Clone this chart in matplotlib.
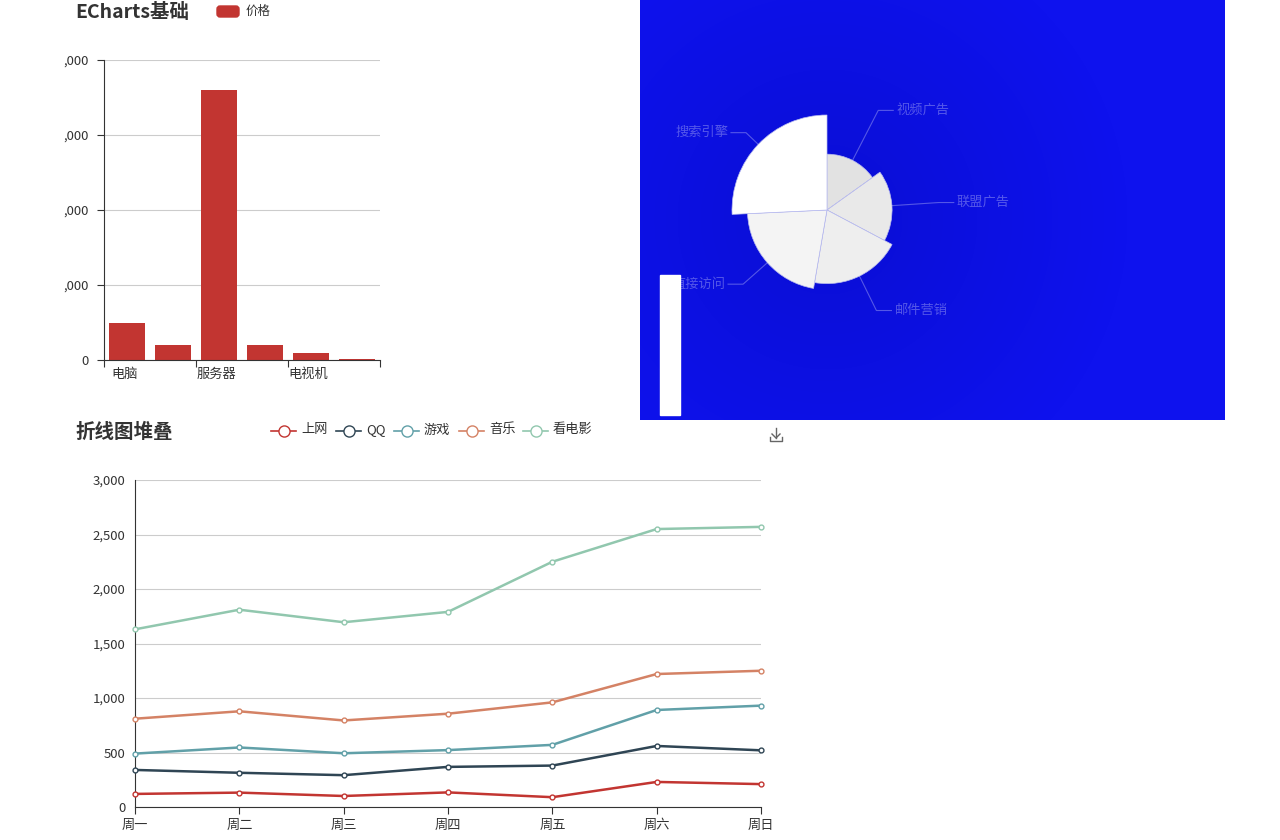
import numpy as np
import matplotlib
matplotlib.use("Agg")
import matplotlib.pyplot as plt
from matplotlib.patches import Wedge, FancyBboxPatch, Rectangle
from matplotlib.lines import Line2D

plt.rcParams['font.family'] = ['Noto Sans CJK SC', 'DejaVu Sans']

# ---- data ----
bar_cats = ["电脑", "笔记本", "服务器", "手机", "电视机", "平板"]
bar_vals = [500, 200, 3600, 200, 100, 20]
bar_ticks = [0, 1000, 2000, 3000, 4000]
bar_tick_labels = ["0", ",000", ",000", ",000", ",000"]

pie_names = ["视频广告", "联盟广告", "邮件营销", "直接访问", "搜索引擎"]
pie_vals = [235, 274, 310, 335, 400]
pie_colors = ["#e2e2e2", "#e9e9e9", "#eeeeee", "#f4f4f4", "#ffffff"]

days = ["周一", "周二", "周三", "周四", "周五", "周六", "周日"]
series_names = ["上网", "QQ", "游戏", "音乐", "看电影"]
s_net = [120, 132, 101, 134, 90, 230, 210]
s_qq = [220, 182, 191, 234, 290, 330, 310]
s_game = [150, 232, 201, 154, 190, 330, 410]
s_music = [320, 332, 301, 334, 390, 330, 320]
s_movie = [820, 932, 901, 934, 1290, 1330, 1320]
series_colors = ["#c23531", "#2f4554", "#61a0a8", "#d48265", "#91c7ae"]

W, H = 1280, 840
fig = plt.figure(figsize=(12.8, 8.4), dpi=100)

def ax_px(x0, y0, x1, y1, **kw):
    return fig.add_axes([x0 / W, 1 - y1 / H, (x1 - x0) / W, (y1 - y0) / H], **kw)

def ftext(x, y, s, **kw):
    fig.text(x / W, 1 - y / H, s, **kw)

# ---- bar chart ----
ax = ax_px(104, 60, 380, 360)
x = np.arange(len(bar_cats))
ax.bar(x, bar_vals, width=0.8, color="#c23531")
ax.set_xlim(-0.5, len(bar_cats) - 0.5)
ax.set_ylim(0, 4000)
ax.set_yticks(bar_ticks)
ax.set_yticklabels(bar_tick_labels)
ax.set_xticks(np.arange(-0.5, len(bar_cats), 2))
ax.set_xticklabels([])
for i in range(0, len(bar_cats), 2):
    ax.text(i - 0.05, -110, bar_cats[i], ha="center", va="top", fontsize=9.5, color="#333")
ax.tick_params(axis="x", length=5, color="#333")
ax.tick_params(axis="y", length=5, color="#333", labelsize=9.5, labelcolor="#333", pad=6)
ax.yaxis.grid(True, color="#cccccc", lw=0.8)
ax.set_axisbelow(True)
for s in ["top", "right"]:
    ax.spines[s].set_visible(False)
ax.spines["left"].set_color("#333")
ax.spines["bottom"].set_color("#333")
ax.spines["bottom"].set_bounds(-0.5, len(bar_cats) - 0.5)
ftext(75, 12, "ECharts基础", fontsize=14, fontweight="bold", color="#333", va="center")
legax = ax_px(0, 0, W, H)
legax.set_xlim(0, W); legax.set_ylim(H, 0); legax.axis("off")
legax.add_patch(FancyBboxPatch((217, 6), 22, 11, boxstyle="round,pad=0,rounding_size=3",
                               color="#c23531"))
ftext(246, 11, "价格", fontsize=9, color="#333", va="center")

# ---- pie panel ----
pax = ax_px(640, 0, 1225, 420)
pax.set_xlim(0, 585); pax.set_ylim(0, 420)
pax.set_aspect("auto"); pax.axis("off")
yy, xx = np.mgrid[0:420, 0:585]
d = np.sqrt((xx - 187) ** 2 + (yy - 200) ** 2) / 300
d = np.clip(d, 0, 1)
c0 = np.array([10, 14, 212]) / 255
c1 = np.array([14, 18, 238]) / 255
img = c0[None, None, :] * (1 - d[..., None]) + c1[None, None, :] * d[..., None]
pax.imshow(img, extent=[0, 585, 0, 420], origin="lower", aspect="auto", zorder=0)
pax.add_patch(Rectangle((20, 5), 20, 140, color="white", zorder=1))
cx, cy = 187, 210
total = sum(pie_vals)
rmax = 95
cum = 0
for name, v, col in zip(pie_names, pie_vals, pie_colors):
    ang = v / total * 360
    t2 = 90 - cum
    t1 = t2 - ang
    r = v / max(pie_vals) * rmax
    pax.add_patch(Wedge((cx, cy), r, t1, t2, facecolor=col, edgecolor="#b8bbee", lw=0.5, zorder=2))
    mid = np.radians((t1 + t2) / 2)
    p0 = (cx + r * np.cos(mid), cy + r * np.sin(mid))
    re = 112
    p1 = (cx + re * np.cos(mid), cy + re * np.sin(mid))
    sgn = 1 if np.cos(mid) >= 0 else -1
    p2 = (p1[0] + sgn * 15, p1[1])
    lc = (1, 1, 1, 0.3)
    pax.plot([p0[0], p1[0], p2[0]], [p0[1], p1[1], p2[1]], color=lc, lw=0.8, zorder=3)
    pax.text(p2[0] + sgn * 3, p2[1], name, color=lc, fontsize=9.5,
             ha="left" if sgn > 0 else "right", va="center", zorder=3)
    cum += ang

# ---- stacked line chart ----
lax = ax_px(135, 480, 761, 807)
series = [s_net, s_qq, s_game, s_music, s_movie]
cumv = np.zeros(len(days))
xi = np.arange(len(days))
for name, s, col in zip(series_names, series, series_colors):
    cumv = cumv + np.array(s)
    lax.plot(xi, cumv, color=col, lw=1.8, marker="o", ms=3.5, mfc="white", mec=col, mew=1,
             clip_on=False, zorder=3)
lax.set_xlim(0, len(days) - 1)
lax.set_ylim(0, 3000)
lax.set_yticks(range(0, 3001, 500))
lax.set_yticklabels(["0", "500", "1,000", "1,500", "2,000", "2,500", "3,000"])
lax.set_xticks(xi)
lax.set_xticklabels(days)
lax.tick_params(axis="both", length=5, color="#333", labelsize=9.5, labelcolor="#333")
lax.tick_params(axis="y", length=0, pad=7)
lax.yaxis.grid(True, color="#cccccc", lw=0.8)
lax.set_axisbelow(True)
for s in ["top", "right"]:
    lax.spines[s].set_visible(False)
lax.spines["left"].set_color("#333")
lax.spines["bottom"].set_color("#333")
ftext(75, 432, "折线图堆叠", fontsize=14, fontweight="bold", color="#333", va="center")
lx = [271, 336, 394, 459, 523]
for x0, name, col in zip(lx, series_names, series_colors):
    legax.add_line(Line2D([x0, x0 + 25], [431, 431], color=col, lw=1.2))
    legax.plot([x0 + 12.5], [431], marker="o", ms=8, mfc="white", mec=col, mew=1)
    ftext(x0 + 30, 430, name, fontsize=9.5, color="#333", va="center")
# download icon
legax.plot([776, 776], [428, 438], color="#666", lw=1)
legax.plot([772, 776, 780], [434, 438, 434], color="#666", lw=1)
legax.plot([770, 770, 782, 782], [437, 441, 441, 437], color="#666", lw=1)

fig.savefig("out.png", dpi=100)
